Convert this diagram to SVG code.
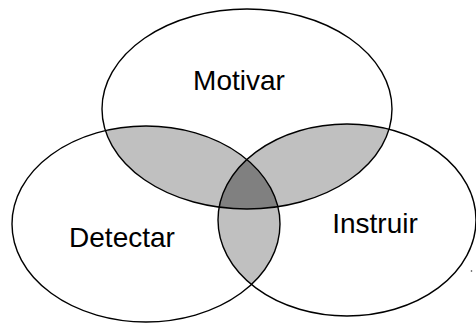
<svg xmlns="http://www.w3.org/2000/svg" width="476" height="324" viewBox="0 0 476 324">
<style>
.outline{fill:none;stroke:#000;stroke-width:1.4}
.pair{fill:#c0c0c0}
.triple{fill:#808080}
.label{font-family:"Liberation Sans",Arial,sans-serif;font-size:28px;fill:#000}
</style>
<defs>
<clipPath id="cTop"><ellipse cx="247" cy="109" rx="145" ry="100"/></clipPath>
<clipPath id="cLeft"><ellipse cx="146" cy="224" rx="134" ry="98"/></clipPath>
<clipPath id="cRight"><ellipse cx="347" cy="220" rx="129" ry="96"/></clipPath>
<clipPath id="cTopLeft" clip-path="url(#cTop)"><ellipse cx="146" cy="224" rx="134" ry="98"/></clipPath>
</defs>
<rect width="476" height="324" fill="#fff"/>
<g id="overlaps">
<ellipse class="pair" cx="146" cy="224" rx="134" ry="98" clip-path="url(#cTop)"/>
<ellipse class="pair" cx="347" cy="220" rx="129" ry="96" clip-path="url(#cTop)"/>
<ellipse class="pair" cx="347" cy="220" rx="129" ry="96" clip-path="url(#cLeft)"/>
<ellipse class="triple" cx="347" cy="220" rx="129" ry="96" clip-path="url(#cTopLeft)"/>
</g>
<g id="motivar">
<ellipse class="outline" cx="247" cy="109" rx="145" ry="100"/>
<text class="label" x="239" y="90" text-anchor="middle">Motivar</text>
</g>
<g id="detectar">
<ellipse class="outline" cx="146" cy="224" rx="134" ry="98"/>
<text class="label" x="122" y="247" text-anchor="middle">Detectar</text>
</g>
<g id="instruir">
<ellipse class="outline" cx="347" cy="220" rx="129" ry="96"/>
<text class="label" x="375" y="233" text-anchor="middle">Instruir</text>
</g>
<g id="connectors"/>
<circle cx="471.5" cy="271" r="0.8" fill="#333"/>
</svg>
